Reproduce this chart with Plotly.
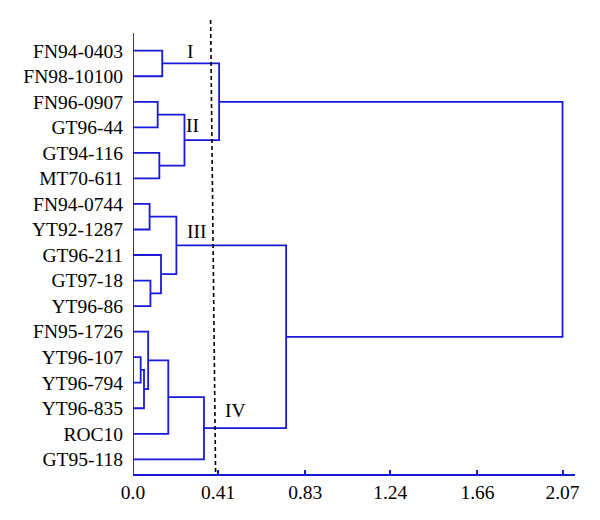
import plotly.graph_objects as go

# ---- data ----
leaves = ["FN94-0403", "FN98-10100", "FN96-0907", "GT96-44", "GT94-116",
          "MT70-611", "FN94-0744", "YT92-1287", "GT96-211", "GT97-18",
          "YT96-86", "FN95-1726", "YT96-107", "YT96-794", "YT96-835",
          "ROC10", "GT95-118"]
# merges: (child_a, child_b, height); node ids continue after leaves
merge_a = [0, 2, 4, 18, 17, 6, 9, 8, 22, 12, 26, 11, 28, 29, 25, 21]
merge_b = [1, 3, 5, 19, 20, 7, 10, 23, 24, 13, 14, 27, 15, 16, 30, 31]
merge_h = [0.141, 0.119, 0.127, 0.248, 0.415, 0.080, 0.084, 0.135, 0.209,
           0.037, 0.053, 0.073, 0.170, 0.342, 0.738, 2.07]
tick_vals = [0, 0.41, 0.83, 1.24, 1.66, 2.07]
tick_text = ["0.0", "0.41", "0.83", "1.24", "1.66", "2.07"]
cluster_names = ["I", "II", "III", "IV"]
cluster_x = [0.275, 0.288, 0.307, 0.492]
cluster_y = [0.04, 2.91, 7.09, 14.1]
cut_level = (0.374, 0.398)

BLUE = "rgb(25,25,215)"
FONT = "'Liberation Serif', 'Times New Roman', Times, serif"
FS = 19.5

# compute node positions
pos_y = list(range(len(leaves)))
pos_h = [0.0] * len(leaves)
xs, ys = [], []
for a, b, h in zip(merge_a, merge_b, merge_h):
    xs += [pos_h[a], h, h, pos_h[b], None]
    ys += [pos_y[a], pos_y[a], pos_y[b], pos_y[b], None]
    pos_y.append((pos_y[a] + pos_y[b]) / 2)
    pos_h.append(h)

fig = go.Figure()
fig.add_trace(go.Scatter(x=xs, y=ys, mode="lines",
                         line=dict(color=BLUE, width=1.8),
                         hoverinfo="skip", showlegend=False))

n = len(leaves)
y_top = -1.202
y_bot = 16.574

fig.update_layout(
    template="none",
    width=592, height=512,
    margin=dict(l=125, r=25, t=12, b=46, autoexpand=False),
    plot_bgcolor="white", paper_bgcolor="white",
    font=dict(family=FONT, size=FS, color="black"),
    xaxis=dict(range=[0, 2.13], tickvals=tick_vals, ticktext=tick_text,
               showgrid=False, zeroline=False, showline=True, automargin=False,
               linecolor=BLUE, linewidth=1.8, ticks="inside", ticklen=4,
               tickcolor=BLUE, tickwidth=1.5,
               tickfont=dict(family=FONT, size=FS, color="black")),
    yaxis=dict(range=[y_bot, y_top], tickvals=list(range(n)), ticktext=leaves,
               showgrid=False, zeroline=False, showline=False, ticks="",
               automargin=False, ticklabelstandoff=9,
               tickfont=dict(family=FONT, size=FS, color="black")),
)

# y axis line
fig.add_shape(type="line", x0=0, x1=0, y0=-0.693, y1=y_bot,
              xref="x", yref="y", line=dict(color=BLUE, width=1.8))
# cut-off dashed line
fig.add_shape(type="line", x0=cut_level[0], x1=cut_level[1], y0=y_top, y1=y_bot,
              xref="x", yref="y", line=dict(color="black", width=1.6, dash="4px,3px"))

for name, cx, cy in zip(cluster_names, cluster_x, cluster_y):
    fig.add_annotation(x=cx, y=cy, text=name, showarrow=False,
                       xref="x", yref="y",
                       font=dict(family=FONT, size=FS, color="black"))

fig.write_html("out.html")
